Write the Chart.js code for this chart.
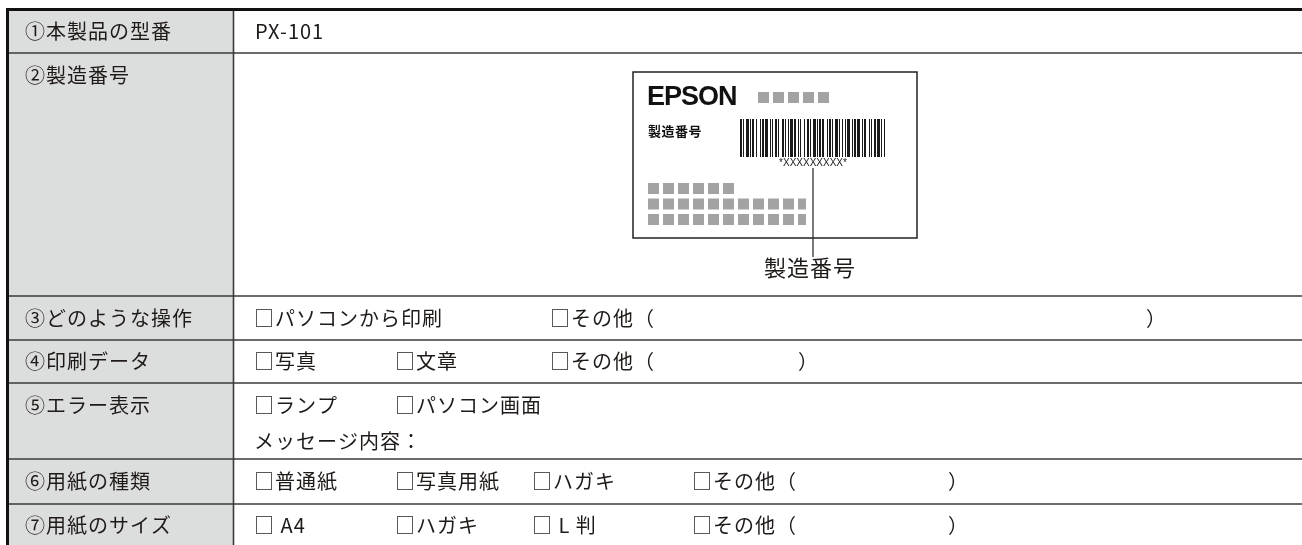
<!DOCTYPE html>
<html lang="ja">
<head>
<meta charset="UTF-8">
<title>table</title>
<script src="https://cdn.jsdelivr.net/npm/chart.js@4.4.0/dist/chart.umd.min.js"></script>
<style>
  html, body { margin: 0; padding: 0; background: #fff; }
  canvas { display: block; }
</style>
</head>
<body>
<canvas id="canvas" width="1302" height="545"></canvas>
<script>
// left column labels
const rowLabels = ['①本製品の型番', '②製造番号', '③どのような操作', '④印刷データ', '⑤エラー表示', '⑥用紙の種類', '⑦用紙のサイズ'];
// right column: one list per text line, one string per tab stop
const rowTexts = [
  [['PX-101']],
  [],
  [['□パソコンから印刷', '□その他（', '）']],
  [['□写真', '□文章', '□その他（', '）']],
  [['□ランプ', '□パソコン画面'], ['メッセージ内容：']],
  [['□普通紙', '□写真用紙', '□ハガキ', '□その他（', '）']],
  [['□ A4', '□ハガキ', '□ L 判', '□その他（', '）']]
];
// the serial number sticker in row 2
const stickerBrand = 'EPSON';
const stickerField = '製造番号';
const stickerSerial = '*XXXXXXXXX*';
const stickerCaption = '製造番号';
const stickerDots = [6, 11, 11];
const barcodeWidths = [2,1,1,2,3,1,1,1,2,2,1,3,1,1,2,1,3,2,1,1,1,2,2,1,1,3,2,1,1,2,1,1,3,1,2,2,1,1,1,3,1,2,2,1,1,2,3,1,1,1,2,1,2,3,1,1,2,1,1,2,3,1,1,2,1,2,1,1,3,2,1,1,2,1,3];

// layout (table units = px of the 1302x545 page)
const layout = {
  left: 7.5, divider: 233.5, rowTops: [9.5, 53, 296, 340, 383, 459, 504], bottom: 560,
  labelX: 25, textX: 254, lineGap: 36,
  tabs: [[255], [], [254, 550, 1146], [254, 395, 550, 798], [254, 395], [254, 395, 532, 692, 948], [254, 395, 532, 692, 948]]
};
const font = '"Noto Sans CJK JP", "Noto Sans", sans-serif';
const ink = '#1e1a18';

function text(ctx, str, x, y, size, opts) {
  opts = opts || {};
  ctx.font = (opts.bold ? 'bold ' : '') + size + 'px ' + (opts.family || font);
  ctx.letterSpacing = (opts.spacing != null ? opts.spacing : 1) + 'px';
  ctx.fillStyle = opts.color || ink;
  ctx.textAlign = opts.align || 'left';
  ctx.textBaseline = 'middle';
  ctx.fillText(str, x, y);
}

const tablePlugin = {
  id: 'table',
  beforeDraw(chart) {
    const ctx = chart.ctx, xs = chart.scales.x, ys = chart.scales.y;
    const X = v => xs.getPixelForValue(v), Y = v => ys.getPixelForValue(v);
    ctx.save();
    ctx.fillStyle = '#ffffff';
    ctx.fillRect(0, 0, chart.width, chart.height);
    ctx.fillStyle = '#dcdddd';
    ctx.fillRect(X(layout.left), Y(layout.rowTops[0]), X(layout.divider) - X(layout.left), Y(layout.bottom) - Y(layout.rowTops[0]));
    ctx.restore();
  },
  afterDraw(chart) {
    const ctx = chart.ctx, xs = chart.scales.x, ys = chart.scales.y;
    const X = v => xs.getPixelForValue(v), Y = v => ys.getPixelForValue(v);
    const right = xs.max;
    ctx.save();
    // row rules
    ctx.strokeStyle = '#3a3a3a';
    ctx.lineWidth = 1.6;
    layout.rowTops.slice(1).forEach(t => {
      ctx.beginPath(); ctx.moveTo(X(layout.left), Y(t)); ctx.lineTo(X(right), Y(t)); ctx.stroke();
    });
    ctx.beginPath(); ctx.moveTo(X(layout.divider), Y(layout.rowTops[0])); ctx.lineTo(X(layout.divider), Y(layout.bottom)); ctx.stroke();
    // outer frame, top and left
    ctx.strokeStyle = '#111';
    ctx.lineWidth = 3;
    ctx.beginPath();
    ctx.moveTo(X(layout.left), Y(layout.bottom));
    ctx.lineTo(X(layout.left), Y(layout.rowTops[0]));
    ctx.lineTo(X(right), Y(layout.rowTops[0]));
    ctx.stroke();

    // texts
    rowLabels.forEach((lab, i) => {
      const top = layout.rowTops[i];
      const bot = i + 1 < layout.rowTops.length ? layout.rowTops[i + 1] : top + 43;
      const multi = (rowTexts[i].length > 1) || rowTexts[i].length === 0;
      const y0 = multi ? top + 22 : (top + bot) / 2;
      text(ctx, lab, X(layout.labelX), Y(y0), 20);
      rowTexts[i].forEach((line, li) => {
        line.forEach((s, k) => {
          const tx = li === 0 ? layout.tabs[i][k] : layout.textX;
          text(ctx, s, X(tx), Y(y0 + li * layout.lineGap), 20);
        });
      });
    });

    // sticker
    const bx0 = 633, by0 = 72, bx1 = 917, by1 = 238;
    ctx.strokeStyle = '#222';
    ctx.lineWidth = 1.5;
    ctx.strokeRect(X(bx0), Y(by0), X(bx1) - X(bx0), Y(by1) - Y(by0));
    text(ctx, stickerBrand, X(647), Y(98), 27, { bold: true, family: '"Liberation Sans", Arial, sans-serif', spacing: -1, color: '#111' });
    ctx.fillStyle = '#a3a3a3';
    for (let k = 0; k < 5; k++) ctx.fillRect(X(758 + k * 15), Y(92), 11, 11);
    text(ctx, stickerField, X(648), Y(131), 13, { bold: true, spacing: 0.5, color: '#111' });
    // barcode
    let bx = 740, dark = true;
    for (let k = 0; bx < 885 && k < barcodeWidths.length * 3; k++) {
      const w = barcodeWidths[k % barcodeWidths.length];
      if (dark) {
        ctx.fillStyle = '#1a1a1a';
        ctx.fillRect(X(bx), Y(119), Math.min(w, 885 - bx), Y(157) - Y(119));
      }
      bx += w; dark = !dark;
    }
    text(ctx, stickerSerial, X(813), Y(163), 10, { family: '"Liberation Sans", Arial, sans-serif', spacing: 0, align: 'center', color: '#222' });
    // little gray blocks
    ctx.fillStyle = '#a3a3a3';
    stickerDots.forEach((n, r) => {
      for (let k = 0; k < n; k++) {
        const w = (n === 11 && k === 10) ? 8 : 11;
        ctx.fillRect(X(648 + k * 15), Y(183 + r * 15.5), w, 11);
      }
    });
    // pointer and caption
    ctx.strokeStyle = '#222';
    ctx.lineWidth = 1.2;
    ctx.beginPath(); ctx.moveTo(X(813), Y(168)); ctx.lineTo(X(813), Y(257)); ctx.stroke();
    text(ctx, stickerCaption, X(810), Y(268), 22, { align: 'center', spacing: 1 });
    ctx.restore();
  }
};

new Chart(document.getElementById('canvas').getContext('2d'), {
  type: 'scatter',
  data: { datasets: [{ data: [] }] },
  options: {
    responsive: false,
    animation: false,
    layout: { padding: 0 },
    plugins: { legend: { display: false }, tooltip: { enabled: false } },
    scales: {
      x: { type: 'linear', min: 0, max: 1302, display: false },
      y: { type: 'linear', min: 0, max: 545, reverse: true, display: false }
    }
  },
  plugins: [tablePlugin]
});
</script>
</body>
</html>
